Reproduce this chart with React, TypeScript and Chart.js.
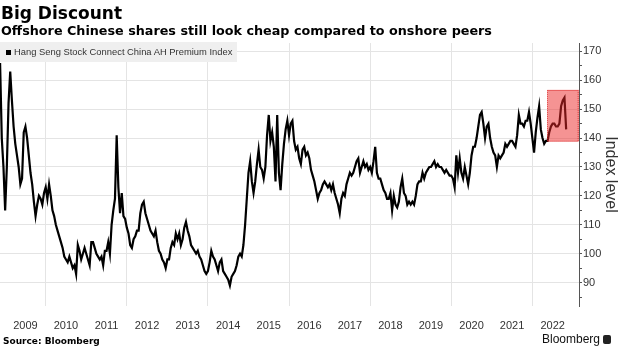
import React, { useEffect, useRef } from 'react';
import { Chart, registerables } from 'chart.js';

Chart.register(...registerables);

const TITLE = 'Big Discount';
const SUBTITLE = 'Offshore Chinese shares still look cheap compared to onshore peers';
const SERIES_NAME = 'Hang Seng Stock Connect China AH Premium Index';
const AXIS_TITLE = 'Index level';
const SOURCE = 'Source: Bloomberg';
const BRAND = 'Bloomberg';

// x-axis tick labels (one per calendar year) and y-axis tick labels
const yearLabels = ['2009', '2010', '2011', '2012', '2013', '2014', '2015', '2016', '2017', '2018', '2019', '2020', '2021', '2022'];
const yTickValues = [85, 90, 95, 100, 105, 110, 115, 120, 125, 130, 135, 140, 145, 150, 155, 160, 165, 170];

// Index readings, two per month (half-month steps)
const v2008 = [166, 140, 130]; // from 2nd half of Nov 2008
const v2009 = [115, 130, 152, 163, 153, 144, 138, 134, 130, 124, 126, 142, 144, 140, 134, 128, 124, 118, 113, 117, 120, 119, 117, 121];
const v2010 = [123, 119, 124, 120, 115, 113, 110, 108, 106, 104, 102, 99, 98, 97, 99, 97, 95, 96, 93, 103, 101, 98, 100, 102];
const v2011 = [100, 98, 96, 104, 104, 102, 100, 99, 98, 99, 96, 101, 101, 104, 100, 110, 115, 119, 141, 123, 114, 121, 113, 112];
const v2012 = [109, 107, 103, 102, 105, 106, 108, 108, 114, 117, 118, 114, 112, 110, 108, 107, 106, 108, 104, 101, 100, 98, 97, 95];
const v2013 = [98, 98, 102, 104, 103, 107, 105, 107, 103, 105, 109, 111, 108, 106, 103, 102, 101, 100, 101, 99, 98, 96, 94, 93];
const v2014 = [94, 97, 101, 99, 98, 96, 94, 97, 98, 94, 93, 92, 91, 89, 92, 93, 94, 96, 99, 100, 99, 103, 110, 119];
const v2015 = [128, 132, 125, 121, 125, 131, 136, 130, 129, 126, 130, 141, 148, 139, 142, 137, 125, 148, 128, 122, 131, 138, 143, 146];
const v2016 = [141, 145, 146, 139, 136, 137, 133, 131, 136, 137, 134, 135, 133, 129, 127, 125, 122, 119, 121, 122, 124, 125, 124, 123];
const v2017 = [124, 122, 124, 121, 119, 117, 114, 119, 121, 120, 124, 126, 128, 127, 128, 130, 132, 133, 128, 130, 132, 130, 131, 129];
const v2018 = [130, 128, 132, 137, 128, 126, 126, 124, 122, 121, 119, 119, 121, 115, 120, 117, 116, 118, 123, 126, 121, 120, 117, 118];
const v2019 = [117, 118, 117, 120, 124, 125, 125, 128, 126, 128, 129, 130, 130, 131, 132, 130, 131, 130, 130, 129, 128, 129, 128, 127];
const v2020 = [127, 126, 123, 134, 128, 133, 128, 126, 130, 127, 124, 128, 134, 137, 137, 140, 144, 148, 149, 145, 140, 144, 145, 140];
const v2021 = [137, 135, 134, 130, 134, 133, 134, 135, 138, 137, 138, 139, 139, 138, 137, 141, 148, 145, 145, 144, 146, 146, 149, 145];
const v2022 = [140, 135, 142, 147, 151, 143, 140, 138, 139, 139, 142, 144, 145, 145, 144, 144, 145, 151, 153, 154, 143]; // to late Oct 2022

// [year, first half-month index, readings]
const yearBlocks: [number, number, number[]][] = [
  [2008, 21, v2008], [2009, 0, v2009], [2010, 0, v2010], [2011, 0, v2011], [2012, 0, v2012],
  [2013, 0, v2013], [2014, 0, v2014], [2015, 0, v2015], [2016, 0, v2016], [2017, 0, v2017],
  [2018, 0, v2018], [2019, 0, v2019], [2020, 0, v2020], [2021, 0, v2021], [2022, 0, v2022],
];

// axis ranges and highlighted recent period
const X_MIN = 2008.873;
const X_MAX = 2023.15;
const Y_MIN = 81.9;
const Y_MAX = 172.9;
const HIGHLIGHT_START = 2022.37;
const HIGHLIGHT_LOW = 138.8;
const HIGHLIGHT_HIGH = 156.7;

const TICK_FONT = "'Liberation Sans', Arial, sans-serif";

const highlightPlugin = {
  id: 'highlightBox',
  afterDatasetsDraw(chart: any) {
    const { ctx, chartArea, scales } = chart;
    const xs = scales.x;
    const ys = scales.y;
    const left = xs.getPixelForValue(HIGHLIGHT_START);
    const right = chartArea.right;
    const top = ys.getPixelForValue(HIGHLIGHT_HIGH);
    const bottom = ys.getPixelForValue(HIGHLIGHT_LOW);
    ctx.save();
    ctx.fillStyle = 'rgba(236, 40, 40, 0.5)';
    ctx.fillRect(left, top, right - left, bottom - top);
    ctx.setLineDash([1, 1]);
    ctx.strokeStyle = 'rgba(215, 30, 30, 0.85)';
    ctx.lineWidth = 1;
    ctx.strokeRect(Math.round(left) + 0.5, Math.round(top) + 0.5, right - left - 1, bottom - top - 1);
    ctx.restore();
  },
};

export default function App() {
  const canvasRef = useRef<HTMLCanvasElement | null>(null);

  useEffect(() => {
    document.body.style.margin = '0';
    const canvas = canvasRef.current;
    if (!canvas) return;

    const points: { x: number; y: number }[] = [];
    yearBlocks.forEach(([year, start, vals]) => {
      vals.forEach((v, i) => points.push({ x: year + (start + i) / 24, y: v }));
    });

    const chart = new Chart(canvas, {
      type: 'line',
      data: {
        datasets: [
          {
            label: SERIES_NAME,
            data: points,
            borderColor: '#000000',
            borderWidth: 2.2,
            pointRadius: 0,
            tension: 0,
            fill: false,
          },
        ],
      },
      options: {
        animation: false,
        responsive: false,
        devicePixelRatio: 1,
        layout: { padding: { top: 43, left: 0, right: 0, bottom: 0 } },
        plugins: {
          legend: { display: false },
          tooltip: { enabled: false },
          title: { display: false },
        },
        scales: {
          x: {
            type: 'linear',
            min: X_MIN,
            max: X_MAX,
            afterBuildTicks: (axis: any) => {
              const ticks: { value: number }[] = [];
              yearLabels.forEach((lab) => {
                const yr = Number(lab);
                if (yr % 2 === 0) ticks.push({ value: yr });
                ticks.push({ value: yr + 0.5 });
              });
              axis.ticks = ticks;
            },
            afterFit: (axis: any) => {
              axis.height = 42;
            },
            ticks: {
              autoSkip: false,
              maxRotation: 0,
              minRotation: 0,
              padding: 13,
              color: '#333333',
              font: { family: TICK_FONT, size: 11 },
              callback: (value: any) => {
                const v = Number(value);
                if (Number.isInteger(v)) return '';
                const lab = yearLabels.find((l) => Number(l) === Math.floor(v));
                return lab || '';
              },
            },
            grid: {
              drawTicks: false,
              lineWidth: 1,
              color: (ctx: any) => {
                const v = ctx.tick ? ctx.tick.value : 0.5;
                return Number.isInteger(v) && v % 2 === 0 ? '#e4e4e4' : 'rgba(0,0,0,0)';
              },
            },
            border: { display: false },
          },
          y: {
            type: 'linear',
            position: 'right',
            min: Y_MIN,
            max: Y_MAX,
            afterBuildTicks: (axis: any) => {
              axis.ticks = yTickValues.map((v) => ({ value: v }));
            },
            afterFit: (axis: any) => {
              axis.width = 41;
            },
            ticks: {
              autoSkip: false,
              padding: 1,
              color: '#333333',
              font: { family: TICK_FONT, size: 11 },
              callback: (value: any) => (Number(value) % 10 === 0 ? String(value) : ''),
            },
            grid: {
              drawTicks: true,
              tickLength: 3,
              tickColor: '#555555',
              lineWidth: 1,
              color: (ctx: any) => {
                const v = ctx.tick ? ctx.tick.value : 5;
                return v % 10 === 0 ? '#e4e4e4' : 'rgba(0,0,0,0)';
              },
            },
            border: { display: true, color: '#555555', width: 1 },
            title: {
              display: true,
              text: AXIS_TITLE,
              color: '#333333',
              padding: 0,
              font: { family: TICK_FONT, size: 16 },
            },
          },
        },
      },
      plugins: [highlightPlugin],
    } as any);

    return () => {
      chart.destroy();
    };
  }, []);

  return (
    <div style={{ position: 'relative', width: 620, height: 348, overflow: 'hidden', background: '#ffffff' }}>
      <canvas ref={canvasRef} width={620} height={348} style={{ position: 'absolute', left: 0, top: 0, width: 620, height: 348, display: 'block' }} />
      <div
        style={{
          position: 'absolute', left: 1, top: 3, lineHeight: '20px', fontSize: 17, fontWeight: 'bold',
          fontFamily: "'DejaVu Sans', sans-serif", color: '#000', whiteSpace: 'nowrap',
        }}
      >
        {TITLE}
      </div>
      <div
        style={{
          position: 'absolute', left: 1, top: 24, lineHeight: '14px', fontSize: 12.75, fontWeight: 'bold',
          fontFamily: "'DejaVu Sans', sans-serif", color: '#000', whiteSpace: 'nowrap',
        }}
      >
        {SUBTITLE}
      </div>
      <div style={{ position: 'absolute', left: 0, top: 42, width: 237, height: 20, background: '#efefef' }}>
        <div style={{ position: 'absolute', left: 6, top: 8, width: 5, height: 5, background: '#000' }} />
        <div
          style={{
            position: 'absolute', left: 14, top: 4, lineHeight: '12px', fontSize: 9.4,
            fontFamily: "'Liberation Sans', Arial, sans-serif", color: '#333', whiteSpace: 'nowrap',
          }}
        >
          {SERIES_NAME}
        </div>
      </div>
      <div
        style={{
          position: 'absolute', left: 3, top: 336, lineHeight: '11px', fontSize: 9, fontWeight: 'bold',
          fontFamily: "'DejaVu Sans', sans-serif", color: '#000', whiteSpace: 'nowrap',
        }}
      >
        {SOURCE}
      </div>
      <div
        style={{
          position: 'absolute', right: 20, top: 333, lineHeight: '13px', fontSize: 12,
          fontFamily: "'Liberation Sans', Arial, sans-serif", color: '#111', whiteSpace: 'nowrap',
        }}
      >
        {BRAND}
      </div>
      <div style={{ position: 'absolute', left: 603, top: 335, width: 8, height: 9, background: '#222', borderRadius: 2 }} />
    </div>
  );
}
